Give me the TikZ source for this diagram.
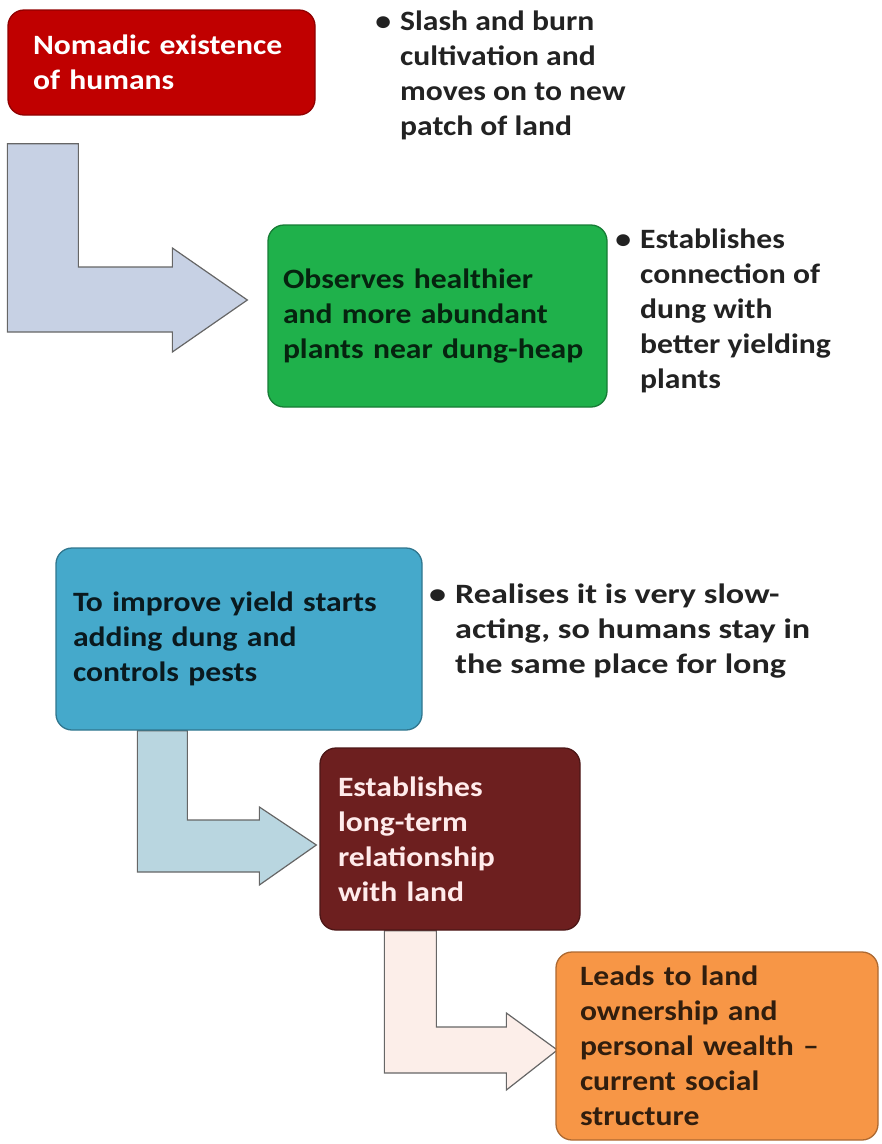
\documentclass[tikz,border=0pt]{standalone}
\usepackage{fontspec}
\setmainfont{Carlito}[FakeStretch=1.13]
\newfontfamily\widefont{Carlito}[FakeStretch=1.22]
\usetikzlibrary{calc, backgrounds}
\definecolor{nomadred}{HTML}{C00000}
\definecolor{obsgreen}{HTML}{1FB14B}
\definecolor{yieldblue}{HTML}{45A9CB}
\definecolor{landmaroon}{HTML}{6D1F1F}
\definecolor{ownorange}{HTML}{F79646}
\definecolor{notegray}{HTML}{222222}
\tikzstyle{stage} = [rectangle, draw, rounded corners=16pt, line width=1.3pt,
    align=left, inner sep=0pt, font=\bfseries\fontsize{28}{35}\selectfont]
\tikzstyle{note} = [anchor=north west, inner sep=0pt, align=left, text=notegray,
    font=\bfseries\fontsize{28}{35}\selectfont]

\begin{document}
\begin{tikzpicture}[
x=1pt, y=-1pt,
bentA/.style = {draw=gray!80!black, line width=1.2pt, fill={rgb,255:red,199;green,209;blue,228}},
bentB/.style = {draw=gray!80!black, line width=1.2pt, fill={rgb,255:red,185;green,214;blue,224}},
bentC/.style = {draw=gray!80!black, line width=1.2pt, fill={rgb,255:red,252;green,238;blue,233}}
                    ]
\useasboundingbox (0,0) rectangle (882,1144);
% stages
\node [stage, fill=nomadred, draw=nomadred!75!black, text=white,
  minimum width=307pt, minimum height=105pt, text width=257pt]
  (nomad) at (161.5,62.5) {Nomadic existence\\of humans};
\node [stage, fill=obsgreen, draw=obsgreen!70!black, text=obsgreen!20!black,
  minimum width=339pt, minimum height=182pt, text width=309pt]
  (observe) at (437.5,316) {Observes healthier\\and more abundant\\plants near dung-heap};
\node [stage, fill=yieldblue, draw=yieldblue!70!black, text=yieldblue!15!black,
  minimum width=366pt, minimum height=182pt, text width=332pt]
  (improve) at (239,639) {To improve yield starts\\adding dung and\\controls pests};
\node [stage, fill=landmaroon, draw=landmaroon!70!black, text=red!8!white,
  minimum width=260pt, minimum height=182pt, text width=224pt]
  (relation) at (450,839) {Establishes\\long-term\\relationship\\with land};
\node [stage, fill=ownorange, draw=ownorange!70!black, text=ownorange!20!black,
  minimum width=322pt, minimum height=188pt, text width=274pt]
  (owner) at (717,1046) {Leads to land\\ownership and\\personal wealth --\\current social\\structure};
% notes
\node [note] (slash) at (400,11) {\llap{\textbullet\hspace{9pt}}Slash and burn\\cultivation and\\moves on to new\\patch of land};
\node [note] (dung) at (640,229) {\llap{\textbullet\hspace{9pt}}Establishes\\connection of\\dung with\\better yielding\\plants};
\node [note, font=\widefont\bfseries\fontsize{28}{35}\selectfont] (slow) at (455,584)
  {\llap{\textbullet\hspace{9pt}}Realises it is very slow-\\acting, so humans stay in\\the same place for long};
% bent arrows
\begin{scope}[on background layer]
\draw [bentA] let \p1 = ([yshift=-28pt]nomad.south west),
                  \p2 = ([xshift=-20pt,yshift=16pt]observe.west) in
  (\p1) -- ++(71pt,0) -- (\x1+71pt,\y2+33pt) -- (\x2-75pt,\y2+33pt)
  -- (\x2-75pt,\y2+52pt) -- (\p2) -- (\x2-75pt,\y2-52pt)
  -- (\x2-75pt,\y2-32pt) -- (\x1,\y2-32pt) -- cycle;
\draw [bentB] let \p1 = ([xshift=82pt]improve.south west),
                  \p2 = ([xshift=-3pt,yshift=-6pt]relation.west) in
  (\p1) -- ++(50pt,0) -- (\x1+50pt,\y2+25pt) -- (\x2-57pt,\y2+25pt)
  -- (\x2-57pt,\y2+38pt) -- (\p2) -- (\x2-57pt,\y2-40pt)
  -- (\x2-57pt,\y2-27pt) -- (\x1,\y2-27pt) -- cycle;
\draw [bentC] let \p1 = ([xshift=65pt]relation.south west),
                  \p2 = ([xshift=2pt,yshift=-4pt]owner.west) in
  (\p1) -- ++(52pt,0) -- (\x1+52pt,\y2+23pt) -- (\x2-51pt,\y2+23pt)
  -- (\x2-51pt,\y2+37pt) -- (\p2) -- (\x2-51pt,\y2-40pt)
  -- (\x2-51pt,\y2-23pt) -- (\x1,\y2-23pt) -- cycle;
\end{scope}
\end{tikzpicture}
\end{document}
